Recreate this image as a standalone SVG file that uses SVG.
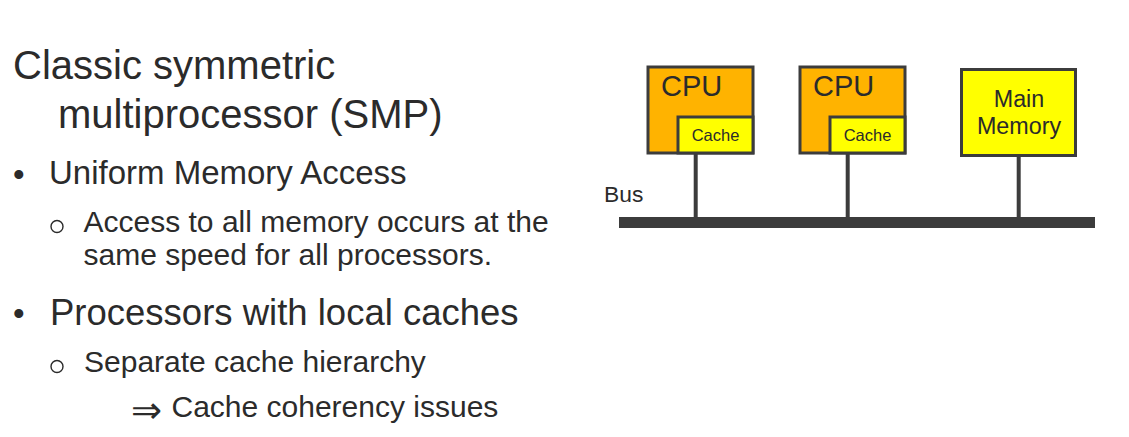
<svg xmlns="http://www.w3.org/2000/svg" width="1129" height="437" viewBox="0 0 1129 437">
<style>
text{font-family:"Liberation Sans",Arial,sans-serif;fill:#2b2b2b}
.cpu{fill:#FFB300;stroke:#3c3c3c;stroke-width:3}
.cache{fill:#FFFF00;stroke:#3c3c3c;stroke-width:3}
.wire{stroke:#3c3c3c;stroke-width:4;fill:none}
.bul{fill:none;stroke:#2b2b2b;stroke-width:1.4}
</style>
<rect width="1129" height="437" fill="#ffffff"/>
<g id="text">
<text x="13" y="79" font-size="40">Classic symmetric</text>
<text x="58" y="127.5" font-size="40">multiprocessor (SMP)</text>
<text x="13" y="186" font-size="33">•</text>
<text x="49" y="183.5" font-size="33">Uniform Memory Access</text>
<circle class="bul" cx="57" cy="226.5" r="6"/>
<text x="83.5" y="231.5" font-size="30">Access to all memory occurs at the</text>
<text x="83.5" y="265" font-size="30">same speed for all processors.</text>
<text x="13" y="325" font-size="33">•</text>
<text x="50" y="325" font-size="36.5">Processors with local caches</text>
<circle class="bul" cx="57" cy="366.5" r="6"/>
<text x="84" y="372.3" font-size="30">Separate cache hierarchy</text>
<text x="131" y="423" font-size="37" style="font-family:'DejaVu Sans',sans-serif">⇒</text>
<text x="171.5" y="417.3" font-size="30">Cache coherency issues</text>
</g>
<g id="connectors">
<rect x="619" y="217" width="476" height="11" fill="#3c3c3c"/>
<line class="wire" x1="695.7" y1="153" x2="695.7" y2="218"/>
<line class="wire" x1="847.7" y1="153" x2="847.7" y2="218"/>
<line class="wire" x1="1018.7" y1="156" x2="1018.7" y2="218"/>
</g>
<g id="bus-label"><text x="604" y="202" font-size="22.8">Bus</text></g>
<g id="cpu1">
<rect class="cpu" x="648" y="67" width="105" height="86"/>
<rect class="cache" x="678" y="117" width="75" height="36"/>
<text x="661" y="96" font-size="29">CPU</text>
<text x="715.5" y="141" font-size="16.5" text-anchor="middle">Cache</text>
</g>
<g id="cpu2">
<rect class="cpu" x="800" y="67" width="105" height="86"/>
<rect class="cache" x="830" y="117" width="75" height="36"/>
<text x="813" y="96" font-size="29">CPU</text>
<text x="867.5" y="141" font-size="16.5" text-anchor="middle">Cache</text>
</g>
<g id="memory">
<rect class="cache" x="961.5" y="69.5" width="114" height="86"/>
<text x="1019" y="107" font-size="23.3" text-anchor="middle">Main</text>
<text x="1019" y="134" font-size="23.3" text-anchor="middle">Memory</text>
</g>
</svg>
